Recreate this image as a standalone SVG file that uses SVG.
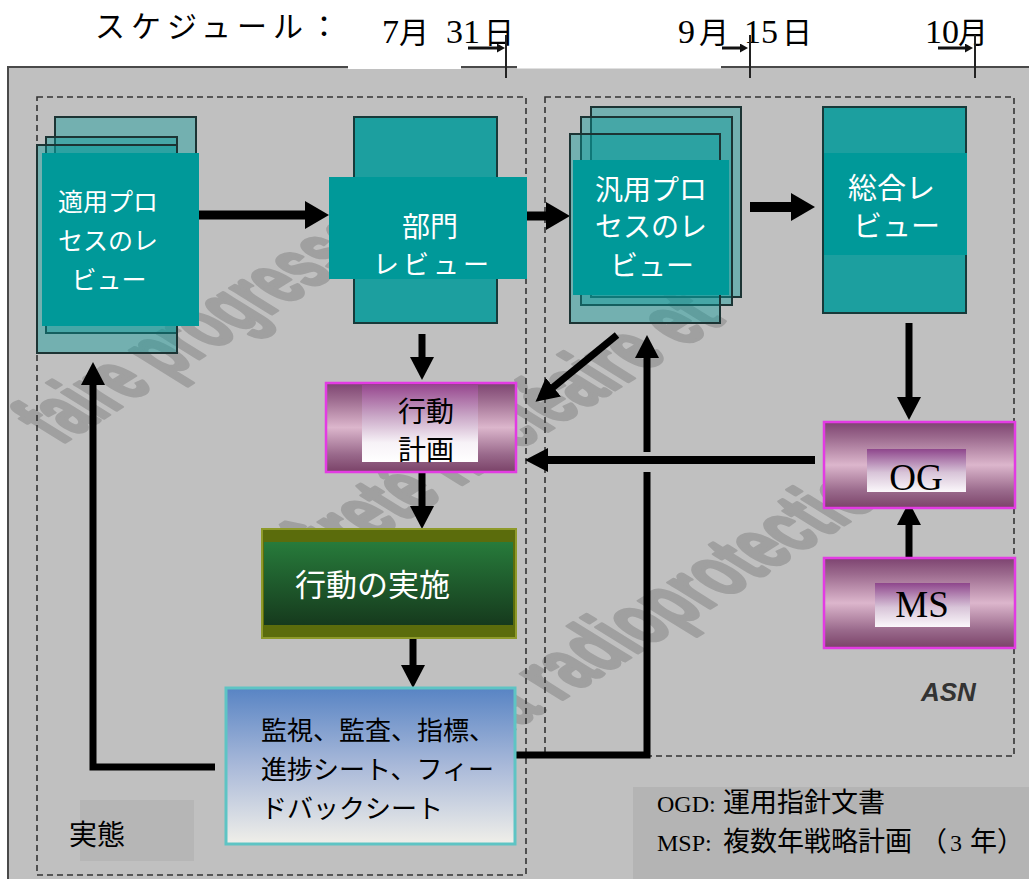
<svg xmlns="http://www.w3.org/2000/svg" width="1029" height="879" viewBox="0 0 1029 879">
<defs>
<style>
.jp{font-family:"Noto Sans CJK JP","Noto Sans CJK SC",sans-serif;}
.lat{font-family:"Liberation Serif","Times New Roman",serif;}
.w{fill:#ffffff;}
.k{fill:#000000;}
.page{fill:#0a9c9c;fill-opacity:0.42;stroke:#1c3434;stroke-width:2;}
.back{fill:#1c9f9f;stroke:#173a3a;stroke-width:2;}
.lbl{fill:#009999;}
.dash{fill:none;stroke:#333333;stroke-width:1.6;stroke-dasharray:6 4;}
.pink{fill:url(#gPink);stroke:#e33be3;stroke-width:2.5;}
.conn{stroke:#000000;fill:none;stroke-linejoin:miter;}
.tick{stroke:#222222;stroke-width:2;fill:none;}
.wm{font-family:"Liberation Sans",Arial,sans-serif;font-weight:bold;font-size:110px;fill:#a0a0a0;stroke:#a0a0a0;stroke-width:5;stroke-linejoin:round;}
</style>
<linearGradient id="gPink" x1="0" y1="0" x2="0" y2="1">
<stop offset="0" stop-color="#7d4370"/>
<stop offset="0.18" stop-color="#9c6a8e"/>
<stop offset="0.5" stop-color="#dcb6cc"/>
<stop offset="0.8" stop-color="#9a6a8c"/>
<stop offset="1" stop-color="#7a4268"/>
</linearGradient>
<linearGradient id="gLbl" x1="0" y1="0" x2="0" y2="1">
<stop offset="0" stop-color="#97488f"/>
<stop offset="0.4" stop-color="#c9a6c6"/>
<stop offset="0.75" stop-color="#f7f2f7"/>
<stop offset="1" stop-color="#ffffff"/>
</linearGradient>
<linearGradient id="gLbl2" x1="0" y1="0" x2="0" y2="1">
<stop offset="0" stop-color="#8e468c"/>
<stop offset="0.55" stop-color="#d8c4d8"/>
<stop offset="1" stop-color="#fbf8fb"/>
</linearGradient>
<linearGradient id="gGreen" x1="0" y1="0" x2="0" y2="1">
<stop offset="0" stop-color="#277b3b"/>
<stop offset="1" stop-color="#163a1d"/>
</linearGradient>
<linearGradient id="gBlue" x1="0" y1="0" x2="0" y2="1">
<stop offset="0" stop-color="#5884c4"/>
<stop offset="0.5" stop-color="#a9b9d9"/>
<stop offset="1" stop-color="#f0efe9"/>
</linearGradient>
<marker id="ah" markerUnits="userSpaceOnUse" markerWidth="26" markerHeight="30" refX="3" refY="14" orient="auto">
<path d="M0,0 L24,14 L0,28 z" fill="#000"/>
</marker>
<marker id="ahs" markerUnits="userSpaceOnUse" markerWidth="25" markerHeight="26" refX="3" refY="12" orient="auto">
<path d="M0,0 L23,12 L0,24 z" fill="#000"/>
</marker>
<marker id="aht" markerUnits="userSpaceOnUse" markerWidth="10" markerHeight="10" refX="1" refY="4.5" orient="auto">
<path d="M0,0 L8,4.5 L0,9 z" fill="#111"/>
</marker>
</defs>

<rect x="0" y="0" width="1029" height="879" fill="#ffffff"/>

<!-- frame -->
<rect x="8" y="67" width="1040" height="830" fill="#c0c0c0" stroke="#4a4a4a" stroke-width="2"/>
<rect x="348" y="56" width="113" height="13" fill="#ffffff"/>
<rect x="517" y="56" width="204" height="12.5" fill="#ffffff"/>

<!-- schedule header -->
<g id="schedule">
<text class="jp k" x="95" y="37" font-size="30" letter-spacing="6">スケジュール：</text>
<text y="43" class="k"><tspan class="lat" font-size="34" x="382">7</tspan><tspan class="jp" font-size="30" x="399">月</tspan><tspan class="lat" font-size="34" x="446">31</tspan><tspan class="jp" font-size="30" x="484">日</tspan></text>
<text y="43" class="k"><tspan class="lat" font-size="34" x="678">9</tspan><tspan class="jp" font-size="30" x="699">月</tspan><tspan class="lat" font-size="34" x="744">15</tspan><tspan class="jp" font-size="30" x="782">日</tspan></text>
<text y="43" class="k"><tspan class="lat" font-size="34" x="925">10</tspan><tspan class="jp" font-size="30" x="958">月</tspan></text>
<line class="tick" x1="506" y1="35" x2="506" y2="78"/>
<line class="tick" x1="750" y1="35" x2="750" y2="78"/>
<line class="tick" x1="975" y1="35" x2="975" y2="78"/>
<line x1="468" y1="48" x2="498" y2="48" stroke="#111" stroke-width="3" marker-end="url(#aht)"/>
<line x1="722" y1="48" x2="741" y2="48" stroke="#111" stroke-width="3" marker-end="url(#aht)"/>
<line x1="938" y1="48" x2="966" y2="48" stroke="#111" stroke-width="3" marker-end="url(#aht)"/>
</g>

<!-- watermark -->
<g id="watermark" class="wm">
<text transform="translate(60,445) scale(1,0.62) rotate(-45) scale(0.58,1)">faire progresser</text>
<text transform="translate(300,585) scale(1,0.62) rotate(-45) scale(0.62,1)">sûreté nucléaire et</text>
<text transform="translate(505,735) scale(1,0.62) rotate(-45) scale(0.62,1)">la radioprotection</text>
</g>

<!-- regions -->
<g id="regions">
<rect class="dash" x="37" y="97" width="489" height="778"/>
<rect class="dash" x="545" y="97" width="469" height="659"/>
<rect x="633" y="787" width="400" height="95" fill="#b4b4b4"/>
<rect x="80" y="800" width="114" height="61" fill="#b6b6b6"/>
<text x="921" y="701" font-family="Liberation Sans, Arial, sans-serif" font-weight="bold" font-style="italic" font-size="26" fill="#333333">ASN</text>
<text class="jp k" x="69" y="845" font-size="28">実態</text>
</g>

<!-- connectors -->
<g id="connectors" class="conn">
<line x1="199" y1="215" x2="308" y2="215" stroke-width="9" marker-end="url(#ah)"/>
<line x1="527" y1="216" x2="549" y2="216" stroke-width="9" marker-end="url(#ah)"/>
<line x1="750" y1="207" x2="794" y2="207" stroke-width="10" marker-end="url(#ah)"/>
<line x1="422" y1="334" x2="422" y2="360" stroke-width="7" marker-end="url(#ahs)"/>
<line x1="617" y1="335" x2="551" y2="389" stroke-width="7" marker-end="url(#ahs)"/>
<line x1="909" y1="323" x2="909" y2="400" stroke-width="7" marker-end="url(#ahs)"/>
<line x1="815" y1="460" x2="545" y2="460" stroke-width="8" marker-end="url(#ahs)"/>
<line x1="909" y1="568" x2="909" y2="522" stroke-width="7" marker-end="url(#ahs)"/>
<line x1="422" y1="472" x2="422" y2="509" stroke-width="7" marker-end="url(#ahs)"/>
<line x1="413" y1="638" x2="413" y2="668" stroke-width="7" marker-end="url(#ahs)"/>
<path d="M215,767 H93 V382" stroke-width="7" marker-end="url(#ahs)"/>
<path d="M515,755 H647 V472" stroke-width="7"/>
<line x1="647" y1="452" x2="647" y2="355" stroke-width="7" marker-end="url(#ahs)"/>
</g>

<!-- nodes -->
<g id="n-applied-review">
<rect class="page" x="55" y="117" width="141" height="205"/>
<rect class="page" x="46" y="137" width="131" height="196"/>
<rect class="page" x="37" y="145" width="140" height="208"/>
<rect class="lbl" x="42" y="153" width="157" height="173"/>
<text class="jp w" font-size="25" text-anchor="middle"><tspan x="108" y="211">適用プロ</tspan><tspan x="108" y="250">セスのレ</tspan><tspan x="109" y="289">ビュー</tspan></text>
</g>

<g id="n-dept-review">
<rect class="back" x="354" y="117" width="143" height="206"/>
<rect class="lbl" x="329" y="177" width="198" height="102"/>
<text class="jp w" font-size="28" x="430" y="237" text-anchor="middle">部門</text>
<text class="jp w" font-size="26" x="373" y="274" letter-spacing="4">レビュー</text>
</g>

<g id="n-generic-review">
<rect class="page" x="591" y="107" width="150" height="190"/>
<rect class="page" x="581" y="117" width="151" height="188"/>
<rect class="page" x="570" y="134" width="150" height="189"/>
<rect class="lbl" x="573" y="160" width="156" height="135"/>
<text class="jp w" font-size="28" text-anchor="middle"><tspan x="651" y="200">汎用プロ</tspan><tspan x="651" y="237">セスのレ</tspan><tspan x="652" y="276">ビュー</tspan></text>
</g>

<g id="n-overall-review">
<rect class="back" x="823" y="107" width="143" height="206"/>
<rect class="lbl" x="824" y="153" width="143" height="102"/>
<text class="jp w" font-size="29" x="848" y="199">総合レ</text>
<text class="jp w" font-size="29" x="853" y="237">ビュー</text>
</g>

<g id="n-action-plan">
<rect class="pink" x="326" y="383" width="190" height="89"/>
<rect x="362" y="385" width="116" height="77" fill="url(#gLbl)"/>
<text class="jp k" font-size="28" x="426" y="422" text-anchor="middle">行動</text>
<text class="jp k" font-size="28" x="426" y="460" text-anchor="middle">計画</text>
</g>

<g id="n-implementation">
<rect x="262" y="529" width="254" height="109" fill="#5b6c0c" stroke="#8e9a2a" stroke-width="2"/>
<rect x="264" y="542" width="249" height="83" fill="url(#gGreen)"/>
<text class="jp w" font-size="31" x="295" y="596">行動の実施</text>
</g>

<g id="n-og">
<rect class="pink" x="824" y="422" width="191" height="86"/>
<rect x="867" y="449" width="99" height="43" fill="url(#gLbl2)"/>
<text class="lat k" font-size="37" x="916" y="490" text-anchor="middle">OG</text>
</g>

<g id="n-ms">
<rect class="pink" x="824" y="558" width="191" height="90"/>
<rect x="875" y="583" width="95" height="44" fill="url(#gLbl2)"/>
<text class="lat k" font-size="37" x="922" y="617" text-anchor="middle">MS</text>
</g>

<g id="n-monitoring">
<rect x="226" y="688" width="289" height="156" fill="url(#gBlue)" stroke="#5ec4c4" stroke-width="3"/>
<text class="jp k" font-size="26"><tspan x="261" y="740">監視、監査、指標、</tspan><tspan x="261" y="779">進捗シート、フィー</tspan><tspan x="261" y="818">ドバックシート</tspan></text>
</g>

<g id="legend">
<text y="812" class="k"><tspan class="lat" x="657" font-size="24">OGD:</tspan><tspan class="jp" x="723" font-size="27">運用指針文書</tspan></text>
<text y="851" class="k"><tspan class="lat" x="657" font-size="24">MSP:</tspan><tspan class="jp" x="723" font-size="27">複数年戦略計画</tspan><tspan class="jp" x="920" font-size="27">（</tspan><tspan class="lat" x="950" font-size="24">3</tspan><tspan class="jp" x="970" font-size="27">年）</tspan></text>
</g>
</svg>
